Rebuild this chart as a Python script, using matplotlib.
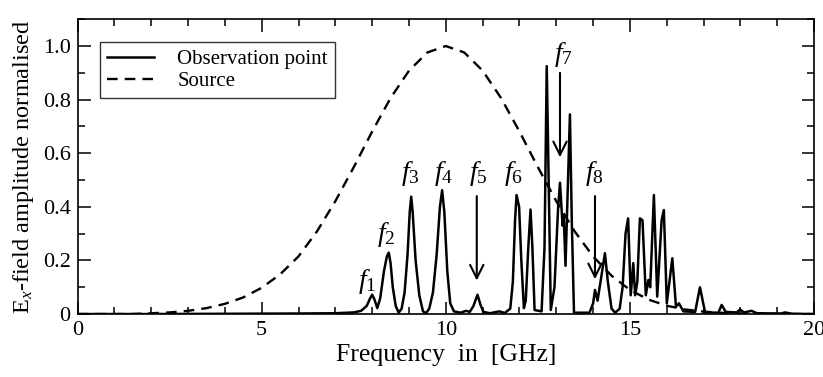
import matplotlib
matplotlib.use("Agg")
import matplotlib.pyplot as plt
from matplotlib.ticker import MultipleLocator

plt.rcParams['font.family'] = ['Liberation Serif', 'DejaVu Serif']
plt.rcParams['mathtext.fontset'] = 'custom'
plt.rcParams['mathtext.rm'] = 'Liberation Serif'
plt.rcParams['mathtext.it'] = 'Liberation Serif:italic'

# Source spectrum (read at 0.5 GHz steps)
src_freq = [0.0, 0.5, 1.0, 1.5, 2.0, 2.5, 3.0, 3.5, 4.0, 4.5, 5.0, 5.5, 6.0, 6.5,
            7.0, 7.5, 8.0, 8.5, 9.0, 9.5, 10.0, 10.5, 11.0, 11.5, 12.0, 12.5,
            13.0, 13.5, 14.0, 14.5, 15.0, 15.5, 16.0, 16.5, 17.0, 17.5, 18.0,
            18.5, 19.0, 19.5, 20.0]
src_amp = [0.0, 0.0, 0.0, 0.0, 0.003, 0.006, 0.012, 0.022, 0.038, 0.062, 0.098,
           0.148, 0.215, 0.308, 0.421, 0.548, 0.681, 0.806, 0.908, 0.976, 1.0,
           0.976, 0.908, 0.806, 0.681, 0.548, 0.421, 0.308, 0.215, 0.143, 0.090,
           0.054, 0.031, 0.017, 0.009, 0.0045, 0.002, 0.001, 0.0, 0.0, 0.0]

# Observation point spectrum (vertices)
obs_freq = [0.0, 2.0, 4.0, 6.0, 7.0, 7.5, 7.7, 7.85, 7.95, 8.00, 8.06, 8.14,
            8.22, 8.32, 8.40, 8.45, 8.50, 8.56, 8.64, 8.72, 8.80, 8.88, 8.96,
            9.02, 9.06, 9.10, 9.18, 9.28, 9.38, 9.46, 9.55, 9.65, 9.75, 9.84,
            9.90, 9.96, 10.04, 10.12, 10.22, 10.40, 10.55, 10.65, 10.75, 10.86,
            10.94, 11.02, 11.20, 11.45, 11.60, 11.75, 11.82, 11.88, 11.92, 11.99,
            12.05, 12.12, 12.17, 12.24, 12.30, 12.35, 12.41, 12.60, 12.68, 12.74,
            12.78, 12.85, 12.95, 13.05, 13.10, 13.17, 13.20, 13.25, 13.37, 13.42,
            13.48, 13.90, 14.00, 14.05, 14.12, 14.20, 14.32, 14.40, 14.50, 14.60,
            14.72, 14.80, 14.88, 14.95, 15.02, 15.09, 15.14, 15.20, 15.27, 15.34,
            15.43, 15.50, 15.55, 15.65, 15.74, 15.86, 15.92, 16.00, 16.15, 16.25,
            16.33, 16.45, 16.77, 16.90, 17.04, 17.40, 17.49, 17.60, 17.90, 17.99,
            18.10, 18.30, 18.45, 19.10, 19.21, 19.40, 20.0]
obs_amp = [0.0, 0.0, 0.001, 0.002, 0.003, 0.006, 0.012, 0.03, 0.06, 0.072, 0.055,
           0.022, 0.06, 0.16, 0.215, 0.229, 0.19, 0.10, 0.03, 0.005, 0.02, 0.08,
           0.22, 0.38, 0.438, 0.38, 0.20, 0.07, 0.01, 0.003, 0.02, 0.08, 0.22,
           0.40, 0.462, 0.38, 0.16, 0.04, 0.01, 0.005, 0.012, 0.008, 0.03, 0.072,
           0.035, 0.008, 0.003, 0.01, 0.004, 0.02, 0.12, 0.35, 0.444, 0.40, 0.20,
           0.022, 0.05, 0.25, 0.39, 0.25, 0.015, 0.01, 0.25, 0.925, 0.60, 0.015,
           0.10, 0.40, 0.49, 0.33, 0.37, 0.18, 0.745, 0.35, 0.005, 0.005, 0.04,
           0.09, 0.05, 0.12, 0.227, 0.12, 0.02, 0.005, 0.02, 0.10, 0.30, 0.357,
           0.07, 0.19, 0.07, 0.12, 0.357, 0.35, 0.07, 0.127, 0.10, 0.444, 0.065,
           0.35, 0.388, 0.04, 0.208, 0.027, 0.04, 0.01, 0.008, 0.10, 0.006, 0.005,
           0.034, 0.008, 0.006, 0.017, 0.006, 0.012, 0.003, 0.002, 0.006, 0.001, 0.0]

# Resonance labels
lab_text = [r'$f_{\mathrm{1}}$', r'$f_{\mathrm{2}}$', r'$f_{\mathrm{3}}$', r'$f_{\mathrm{4}}$',
            r'$f_{\mathrm{5}}$', r'$f_{\mathrm{6}}$', r'$f_{\mathrm{7}}$', r'$f_{\mathrm{8}}$']
lab_freq = [7.86, 8.39, 9.03, 9.93, 10.87, 11.85, 13.2, 14.03]
lab_amp = [0.12, 0.295, 0.525, 0.525, 0.525, 0.525, 0.97, 0.525]

# Arrows (freq, start amp, end amp)
arr_freq = [10.84, 13.10, 14.05]
arr_top = [0.44, 0.90, 0.44]
arr_tip = [0.125, 0.585, 0.13]

fig = plt.figure(figsize=(8.23, 3.77), dpi=100)
ax = fig.add_axes([0.0942, 0.167, 0.895, 0.782])

ax.plot(obs_freq, obs_amp, color='black', lw=1.8, label='Observation point')
ax.plot(src_freq, src_amp, color='black', lw=1.7, ls=(0, (4.5, 3)), label='Source')

for t, x, y in zip(lab_text, lab_freq, lab_amp):
    ax.text(x, y, t, fontsize=20, ha='center', va='center')

for x, y0, y1 in zip(arr_freq, arr_top, arr_tip):
    ax.annotate('', xy=(x, y1), xytext=(x, y0),
                arrowprops=dict(arrowstyle='->', lw=1.5, color='black',
                                mutation_scale=24, shrinkA=0, shrinkB=0))

ax.set_xlim(0, 20)
ax.set_ylim(0, 1.1)
ax.xaxis.set_major_locator(MultipleLocator(5))
ax.xaxis.set_minor_locator(MultipleLocator(1))
ax.yaxis.set_major_locator(MultipleLocator(0.2))
ax.yaxis.set_minor_locator(MultipleLocator(0.1))
ax.set_yticks([0, 0.2, 0.4, 0.6, 0.8, 1.0])
ax.set_yticklabels(['0', '0.2', '0.4', '0.6', '0.8', '1.0'])
ax.tick_params(which='both', direction='in', top=True, right=True, labelsize=16,
               width=1.1, color='black')
ax.tick_params(which='major', length=9, pad=5)
ax.tick_params(which='minor', length=5)
for s in ax.spines.values():
    s.set_linewidth(1.2)

ax.set_xlabel('Frequency  in  [GHz]', fontsize=18.5, labelpad=3)
ax.set_ylabel(r'E$_x$-field amplitude normalised', fontsize=17.5, labelpad=5)

leg = ax.legend(loc='upper left', bbox_to_anchor=(0.0306, 0.923), fontsize=15,
                frameon=True, fancybox=False, edgecolor='black', handlelength=2.25,
                borderpad=0.35, labelspacing=0.12, handletextpad=1.1, borderaxespad=0)
leg.get_frame().set_linewidth(1.0)

fig.savefig('out.png', dpi=100)
